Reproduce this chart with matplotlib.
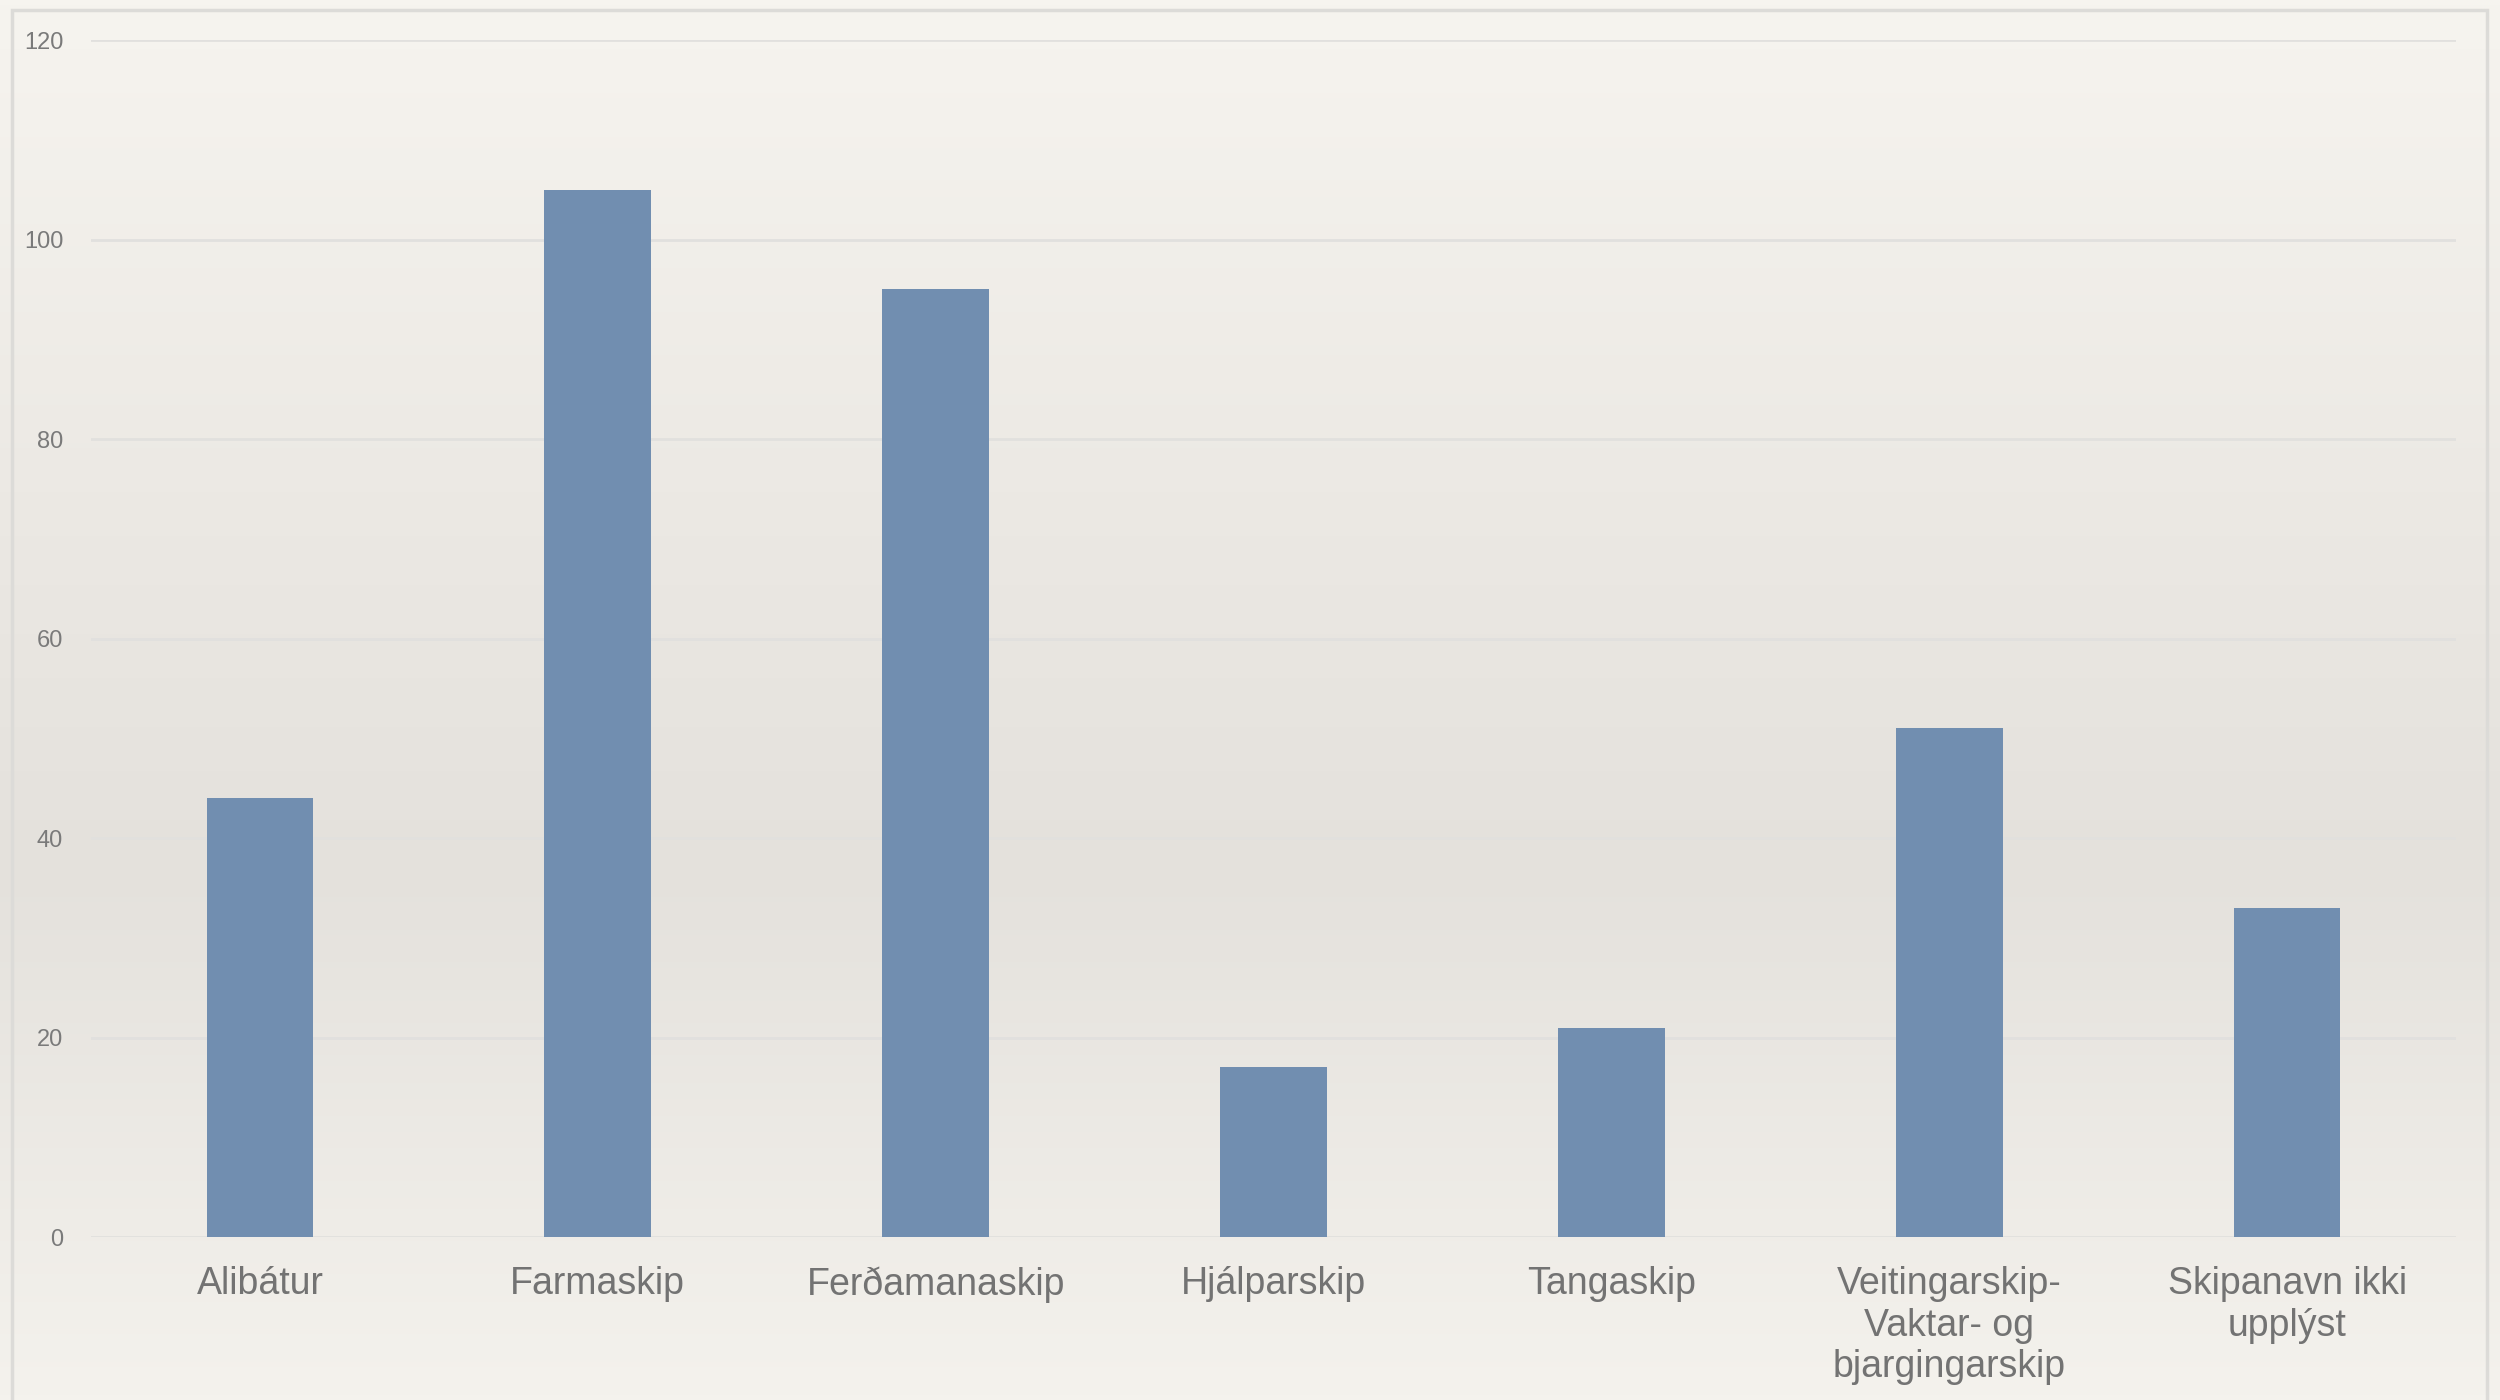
import numpy as np
import matplotlib
matplotlib.use("Agg")
import matplotlib.pyplot as plt
from matplotlib.colors import LinearSegmentedColormap
from matplotlib.patches import Rectangle

categories = ["Alibátur", "Farmaskip", "Ferðamanaskip", "Hjálparskip", "Tangaskip",
              "Veitingarskip-\nVaktar- og\nbjargingarskip", "Skipanavn ikki\nupplýst"]
values = [44, 105, 95, 17, 21, 51, 33]
yticks = [0, 20, 40, 60, 80, 100, 120]

plt.rcParams['font.family'] = ['Liberation Sans', 'DejaVu Sans']

fig = plt.figure(figsize=(25, 14), dpi=100)

# paper-like background, darker band in the middle
bg = fig.add_axes([0, 0, 1, 1], zorder=-10)
bg_cmap = LinearSegmentedColormap.from_list(
    "paper", [(0.0, "#f6f4ef"), (0.35, "#ece9e4"), (0.62, "#e4e1dc"), (1.0, "#f4f2ed")])
grad = np.linspace(0, 1, 256).reshape(-1, 1)
bg.imshow(grad, aspect="auto", cmap=bg_cmap, extent=[0, 1, 0, 1], origin="upper")
bg.add_patch(Rectangle((12 / 2500, -0.1), (2487 - 12) / 2500, 1.1 - 10 / 1400,
                       fill=False, edgecolor="#dcdbd8", linewidth=2.5,
                       transform=bg.transAxes))
bg.set_xlim(0, 1)
bg.set_ylim(0, 1)
bg.axis("off")

ax = fig.add_axes([0.0364, 0.1164, 0.946, 0.855])
ax.patch.set_alpha(0)
x = np.arange(len(categories))
ax.bar(x, values, width=0.316, color="#718eb0", zorder=3)

ax.set_xlim(-0.5, len(categories) - 0.5)
ax.set_ylim(0, 120)
ax.set_yticks(yticks)
ax.set_xticks(x)
ax.set_xticklabels(categories, fontsize=27, color="#737373", linespacing=1.2, va="top")
ax.tick_params(axis="y", length=0, pad=20, labelsize=17, labelcolor="#7a7a7a")
ax.tick_params(axis="x", length=0, pad=21)
ax.grid(axis="y", color="#e1e0de", linewidth=2, zorder=0)
for s in ax.spines.values():
    s.set_visible(False)

fig.savefig("out.png", dpi=100)
